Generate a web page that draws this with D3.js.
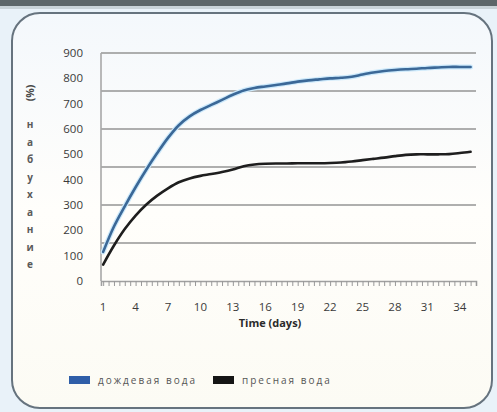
<!DOCTYPE html>
<html><head><meta charset="utf-8">
<script src="https://cdn.jsdelivr.net/npm/d3@7"></script>
<style>
html,body{margin:0;padding:0;background:#e9f2f9;}
svg{display:block;}
text{font-family:"Open Sans","DejaVu Sans",sans-serif;}
</style></head>
<body>
<script>
const days = d3.range(1, 36);
const rainWater = [115,215,295,370,440,505,565,615,650,675,695,715,735,752,762,768,774,780,787,792,796,800,802,806,815,823,829,833,836,838,841,843,845,845,845];
const freshWater = [65,140,205,258,302,337,366,390,405,415,422,430,440,453,460,463,464,464,465,465,465,466,468,472,477,482,487,493,498,500,500,500,501,505,510];
const seriesNames = ["дождевая вода", "пресная вода"];
const yTickValues = [0,100,200,300,400,500,600,700,800,900];
const gridValues = [150,300,450,600,750,900];
const xLabelValues = [1,4,7,10,13,16,19,22,25,28,31,34];
const yTitleWord = "набухание";

const W = 497, H = 412;
const svg = d3.select("body").append("svg").attr("width", W).attr("height", H);

const defs = svg.append("defs");
const lg = defs.append("linearGradient").attr("id","bg").attr("x1","0").attr("y1","0").attr("x2","0").attr("y2","1");
lg.append("stop").attr("offset","0").attr("stop-color","#f4f8fc");
lg.append("stop").attr("offset","0.5").attr("stop-color","#fffefb");
lg.append("stop").attr("offset","1").attr("stop-color","#fcfbf4");

// top dark strip
svg.append("rect").attr("x",0).attr("y",0).attr("width",W).attr("height",6).attr("fill","#5d6669");
svg.append("rect").attr("x",0).attr("y",6).attr("width",W).attr("height",3).attr("fill","#c9d3d8");

// frame
svg.append("rect").attr("x",12).attr("y",13).attr("width",480).attr("height",395)
  .attr("rx",28).attr("fill","url(#bg)").attr("stroke","#66737e").attr("stroke-width",2);

const x = d3.scaleLinear().domain([0.8, 35.5]).range([101, 476]);
const y = d3.scaleLinear().domain([0, 900]).range([281, 53]);

// gridlines
svg.append("g").selectAll("line").data(gridValues).join("line")
  .attr("x1", x(0.8)).attr("x2", x(35.5))
  .attr("y1", d => y(d)).attr("y2", d => y(d))
  .attr("stroke", "#959595").attr("stroke-width", 1.7);

// y axis line
svg.append("line").attr("x1",x(0.8)).attr("x2",x(0.8)).attr("y1",y(0)).attr("y2",y(900))
  .attr("stroke","#a8a8a8").attr("stroke-width",1.6);

// y tick labels
svg.append("g").selectAll("text").data(yTickValues).join("text")
  .attr("x", 83).attr("y", d => y(d)).attr("dy","0.35em")
  .attr("text-anchor","end").attr("font-size",11.5).attr("fill","#3a3a3a")
  .text(d => d);

// x axis
const xAxis = d3.axisBottom(x).tickValues(d3.range(1, 35.6, 0.5)).tickSize(5).tickFormat("");
const gx = svg.append("g").attr("transform",`translate(0,${y(0)})`).call(xAxis);
gx.select(".domain").attr("stroke","#a0a0a0").attr("stroke-width",1.6);
gx.selectAll(".tick line").attr("stroke","#999").attr("stroke-width",1);

svg.append("g").selectAll("text").data(xLabelValues).join("text")
  .attr("x", d => x(d)).attr("y", 311)
  .attr("text-anchor","middle").attr("font-size",11.5).attr("fill","#3a3a3a")
  .text(d => d);

svg.append("text").attr("x",270).attr("y",327).attr("text-anchor","middle")
  .attr("font-size",11).attr("font-weight","bold").attr("fill","#2a2a2a").text("Time (days)");

// y title
svg.append("text").attr("transform","translate(34,93) rotate(-90)")
  .attr("text-anchor","middle").attr("font-size",10.5).attr("font-weight","bold").attr("fill","#4a4a4a").text("(%)");
svg.append("g").selectAll("text").data(yTitleWord.split("")).join("text")
  .attr("x", 30).attr("y", (d,i) => 128 + i*17.5)
  .attr("text-anchor","middle").attr("font-size",10).attr("font-weight","bold").attr("fill","#5a5a5a")
  .text(d => d);

// lines
const line = d3.line().x((d,i) => x(days[i])).y(d => y(d)).curve(d3.curveCatmullRom.alpha(0.5));
svg.append("path").datum(rainWater).attr("d", line).attr("fill","none")
  .attr("stroke","#cce9fb").attr("stroke-width",5).attr("stroke-linecap","round");
svg.append("path").datum(rainWater).attr("d", line).attr("fill","none")
  .attr("stroke","#3b6897").attr("stroke-width",2.6).attr("stroke-linecap","round");
svg.append("path").datum(freshWater).attr("d", line).attr("fill","none")
  .attr("stroke","#1e1e1e").attr("stroke-width",2.6).attr("stroke-linecap","round");

// legend
const legend = svg.append("g");
const legItems = [{name:seriesNames[0], color:"#2f5ea8", x:69},{name:seriesNames[1], color:"#151515", x:213}];
legItems.forEach(it => {
  legend.append("rect").attr("x",it.x).attr("y",376).attr("width",21).attr("height",8).attr("fill",it.color);
  legend.append("text").attr("x",it.x+29).attr("y",383.5).attr("font-size",10).attr("letter-spacing",2)
    .attr("fill","#555").text(it.name);
});
</script>
</body></html>
